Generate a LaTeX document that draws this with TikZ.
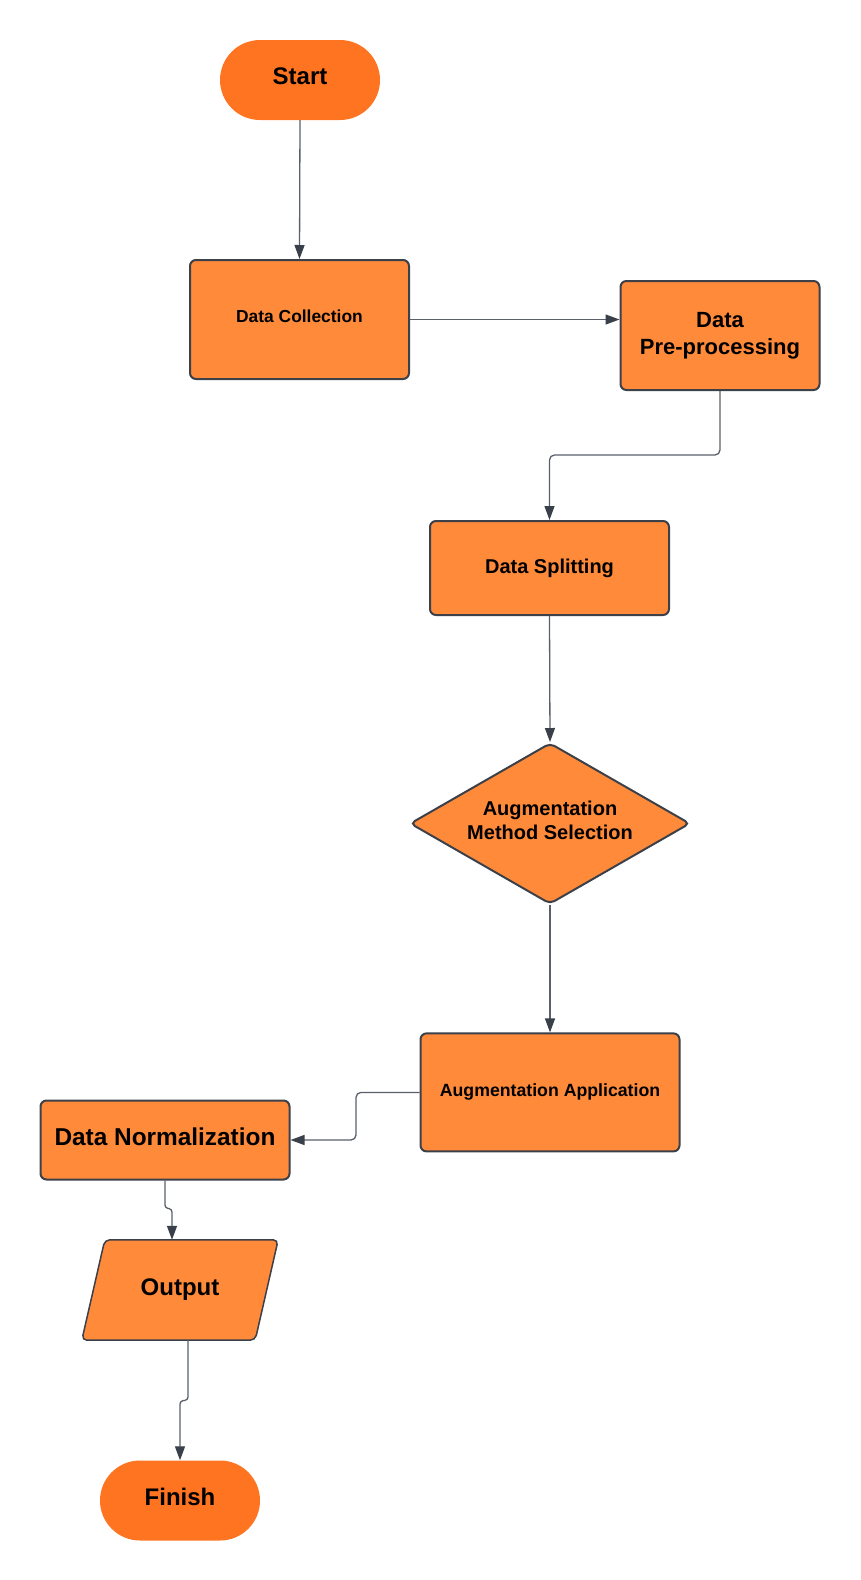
\documentclass[tikz,border=0pt]{standalone}
\usepackage{fontspec}
\setmainfont{Liberation Sans}
\usetikzlibrary{arrows.meta,shapes.geometric,calc}
\definecolor{termfill}{HTML}{FF7420}
\definecolor{boxfill}{HTML}{FF8A3A}
\definecolor{edgecol}{HTML}{3B4049}
\definecolor{linecol}{HTML}{59606A}
\definecolor{tipcol}{HTML}{3A4049}
\tikzset{
  term/.style={rectangle, rounded corners=40pt, fill=termfill, minimum width=160pt, minimum height=80pt, inner sep=0pt, text depth=8pt, font=\bfseries\fontsize{24}{28}\selectfont, text=black},
  procbox/.style={rectangle, rounded corners=6pt, fill=boxfill, draw=edgecol, line width=2pt, inner sep=0pt, align=center, text=black},
  decbox/.style={diamond, aspect=1.745, rounded corners=5pt, fill=boxfill, draw=edgecol, line width=2pt, inner sep=0pt, align=center, text=black},
  conn/.style={draw=linecol, line width=1.3pt, rounded corners=5pt, -{Triangle[length=14pt,width=10pt,color=tipcol]}},
}
\begin{document}
\begin{tikzpicture}[x=1pt,y=-1pt]
\useasboundingbox (0,0) rectangle (860,1580);
% nodes
\node[term] (start) at (300,80) {Start};
\node[procbox, minimum width=219pt, minimum height=119pt, text depth=6pt, font=\bfseries\fontsize{17.4}{21}\selectfont] (dc) at (299.5,319.5) {Data Collection};
\node[procbox, minimum width=199pt, minimum height=109pt, font=\bfseries\fontsize{22}{27}\selectfont] (dp) at (720,335.5) {Data\\Pre-processing};
\node[procbox, minimum width=239pt, minimum height=94pt, font=\bfseries\fontsize{20}{24}\selectfont] (ds) at (549.5,568) {Data Splitting};
\node[decbox, minimum width=280pt, minimum height=161pt, font=\bfseries\fontsize{20}{24}\selectfont] (dm) at (550,823.5) {Augmentation\\Method Selection\\[-18pt]\mbox{}};
\node[procbox, minimum width=259pt, minimum height=118pt, font=\bfseries\fontsize{17.7}{21}\selectfont] (aa) at (550,1092.4) {Augmentation Application};
\node[procbox, minimum width=249pt, minimum height=79pt, text depth=6pt, font=\bfseries\fontsize{24.4}{28}\selectfont] (dn) at (165,1140) {Data Normalization};
% output parallelogram
\node[rectangle, minimum width=196pt, minimum height=100pt, inner sep=0pt] (out) at (180,1290) {};
\fill[boxfill, draw=edgecol, line width=1.5pt, rounded corners=5pt]
  ($(out.north west)+(23,0)$) -- (out.north east) -- ($(out.south east)+(-23,0)$) -- (out.south west) -- cycle;
\node[font=\bfseries\fontsize{24}{28}\selectfont, text=black] (outlabel) at (out.center) {Output};
\node[term] (fin) at (180,1500.5) {Finish};
% connector helper coordinates
\coordinate (outin) at ($(out.north)+(-8,0)$);
\coordinate (outout) at ($(out.south)+(8,0)$);
% connectors
\draw[conn] (start.south) -- (dc.north);
\draw[conn] (dc.east) -- (dc.east -| dp.west);
\draw[conn] (dp.south) -- (dp.south |- 0,455) -- (ds.north |- 0,455) -- (ds.north);
\draw[conn] (ds.south) -- (dm.north);
\draw[conn] (dm.south) -- (aa.north);
\draw[conn] (aa.west) -- (356,1092.4) -- (356,1140) -- (dn.east);
\draw[conn, rounded corners=3pt] (dn.south) -- (165,1208) -- (outin |- 0,1209) -- (outin);
\draw[conn, rounded corners=3pt] (outout) -- (188,1400) -- (fin.north |- 0,1401) -- (fin.north);
\end{tikzpicture}
\end{document}
